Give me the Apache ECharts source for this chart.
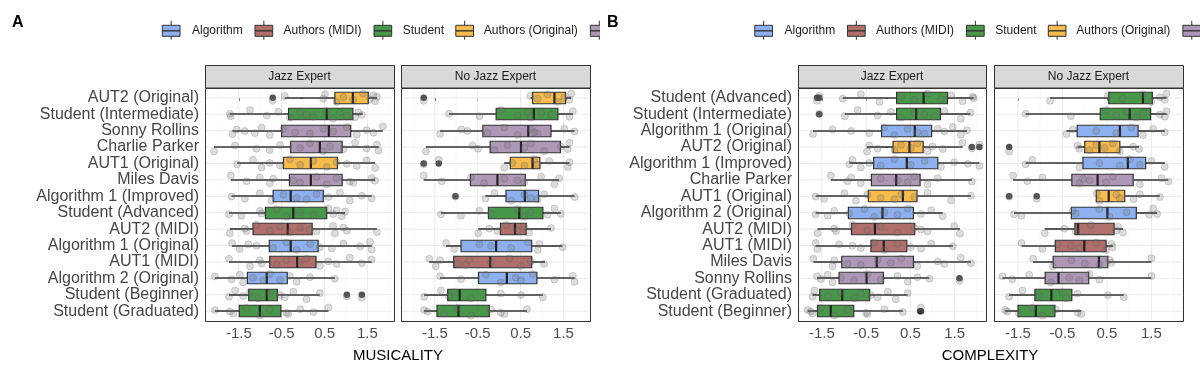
<!DOCTYPE html>
<html><head><meta charset="utf-8">
<script src="https://cdn.jsdelivr.net/npm/echarts@6/dist/echarts.min.js"></script>
<style>html,body{margin:0;padding:0;background:#fff}#c{width:1200px;height:373px}</style>
</head><body><div id="c"></div>
<script>
const groupNames = ['Algorithm','Authors (MIDI)','Student','Authors (Original)','Jazz Musician'];
const groupColors = ['#7DA6EE','#A65B56','#2E8A30','#F6B332','#A48AAD'];
const tickVals = [-1.5,-0.5,0.5,1.5];
const minorVals = [-2,-1,0,1,2];
const facetNames = ['Jazz Expert','No Jazz Expert'];

// ---------- Panel A: MUSICALITY (top to bottom) ----------
const catsA = ['AUT2 (Original)','Student (Intermediate)','Sonny Rollins','Charlie Parker','AUT1 (Original)','Miles Davis','Algorithm 1 (Improved)','Student (Advanced)','AUT2 (MIDI)','Algorithm 1 (Original)','AUT1 (MIDI)','Algorithm 2 (Original)','Student (Beginner)','Student (Graduated)'];
const groupA = [3,2,4,4,3,4,0,2,1,0,1,0,2,2];
// [min, Q1, median, Q3, max]
const boxA_jazz = [
 [-0.43,0.74,1.16,1.52,1.72],[-1.71,-0.34,0.55,1.16,1.39],[-1.65,-0.50,0.60,1.11,1.86],[-2.08,-0.29,0.39,0.91,1.76],
 [-1.54,-0.46,0.18,0.80,1.68],[-1.69,-0.32,0.18,0.91,1.68],[-1.67,-0.70,-0.29,0.47,1.60],[-1.73,-0.88,-0.23,0.55,0.98],
 [-1.71,-1.17,-0.36,0.21,1.72],[-1.66,-0.79,-0.29,0.35,1.60],[-1.73,-0.78,-0.14,0.30,1.60],[-2.06,-1.30,-0.85,-0.37,0.74],
 [-1.73,-1.27,-0.85,-0.60,0.39],[-2.06,-1.49,-1.01,-0.52,0.59]
];
const boxA_non = [
 [0.73,0.78,1.29,1.55,1.68],[-1.17,-0.07,0.81,1.37,1.72],[-1.38,-0.38,0.68,1.21,1.76],[-1.71,-0.21,0.51,1.43,1.64],
 [0.12,0.26,0.78,0.95,1.64],[-1.76,-0.67,-0.04,0.61,1.40],[-0.32,0.16,0.60,0.92,1.76],[-1.36,-0.25,0.47,1.02,1.44],
 [-0.49,0.03,0.37,0.63,1.21],[-1.24,-0.89,-0.07,0.76,1.48],[-1.63,-1.06,-0.21,0.76,1.07],[-1.38,-0.48,0.18,0.88,1.76],
 [-1.75,-1.20,-0.92,-0.31,1.02],[-1.75,-1.45,-0.95,-0.23,0.65]
];
const ptsA_jazz = [
 [-0.71,-0.43,0.47,0.51,0.78,0.94,1.17,1.40,1.56,1.64,1.68,1.72],
 [-1.71,-1.69,-1.24,-0.85,-0.58,-0.31,-0.07,0.08,0.24,0.55,0.70,0.86,1.02,1.21,1.29,1.37],
 [-1.65,-1.55,-1.36,-1.13,-0.97,-0.78,-0.46,-0.19,0.16,0.47,0.70,1.02,1.25,1.48,1.64,1.86],
 [-2.08,-1.59,-1.09,-0.78,-0.54,-0.07,0.16,0.47,0.63,0.94,1.21,1.48,1.72,1.76],
 [-1.54,-1.17,-0.97,-0.78,-0.54,-0.31,-0.07,0.24,0.55,0.78,1.02,1.25,1.48,1.68],
 [-1.69,-1.32,-1.01,-0.78,-0.70,-0.23,-0.07,0.31,0.55,0.78,1.09,1.17,1.60,1.68],
 [-1.67,-1.36,-1.01,-0.74,-0.46,-0.15,0.08,0.31,0.59,0.86,1.09,1.37,1.60],
 [-1.73,-1.44,-1.01,-0.97,-0.62,-0.39,-0.07,0.24,0.59,0.70,0.78,0.90,0.98],
 [-1.71,-1.36,-1.32,-1.09,-0.78,-0.54,-0.31,-0.07,0.16,0.31,0.70,0.74,0.94,1.02,1.72],
 [-1.66,-1.48,-1.28,-1.09,-0.70,-0.39,-0.15,0.16,0.39,0.67,0.94,1.33,1.56,1.60],
 [-1.73,-1.24,-1.01,-0.97,-0.62,-0.39,-0.07,0.08,0.39,0.59,0.78,1.09,1.37,1.60],
 [-2.06,-1.67,-1.48,-1.40,-1.17,-0.93,-0.78,-0.54,-0.31,-0.15,0.16,0.74],
 [-1.73,-1.59,-1.40,-1.24,-1.05,-0.78,-0.54,-0.43,-0.23,0.08,0.39,1.02,1.37],
 [-2.06,-1.71,-1.63,-1.32,-1.01,-0.78,-0.39,-0.35,-0.07,0.24,0.59]
];
const ptsA_non = [
 [-1.76,0.73,0.90,1.13,1.37,1.52,1.64,1.68],
 [-1.17,-0.46,0.04,0.43,0.67,0.74,0.98,1.21,1.64,1.72],
 [-1.38,-0.88,-0.74,-0.27,0.12,0.43,0.74,0.82,0.90,1.52,1.76],
 [-1.71,-0.62,-0.49,-0.11,0.20,0.59,0.74,1.05,1.44,1.60,1.64],
 [-1.76,-1.41,0.12,0.31,0.59,0.82,0.90,1.17,1.60,1.64],
 [-1.76,-1.34,-0.66,-0.35,0.12,0.43,0.59,0.98,1.29,1.40],
 [-1.02,-0.32,-0.11,0.28,0.59,0.74,0.90,1.05,1.76],
 [-1.36,-0.89,-0.46,-0.19,0.43,0.59,0.74,1.13,1.29,1.44],
 [-0.49,-0.23,-0.04,0.16,0.43,0.59,0.70,1.21],
 [-1.24,-1.05,-0.46,-0.19,0.28,0.67,0.90,0.94,1.48],
 [-1.63,-1.48,-1.38,-0.97,-0.78,-0.70,-0.19,0.24,0.51,0.74,1.05],
 [-1.38,-0.89,-0.31,0.04,0.39,0.51,0.78,1.29,1.72,1.76],
 [-1.75,-1.36,-1.17,-1.05,-0.66,0.04,0.51,1.02],
 [-1.75,-1.67,-1.28,-0.97,-0.66,-0.19,0.04,0.12,0.65]
];
// outliers: [row, value]
const outA_jazz = [[0,-0.71],[12,1.02],[12,1.37]];
const outA_non = [[0,-1.76],[4,-1.76],[4,-1.41],[6,-1.02]];

// ---------- Panel B: COMPLEXITY (top to bottom) ----------
const catsB = ['Student (Advanced)','Student (Intermediate)','Algorithm 1 (Original)','AUT2 (Original)','Algorithm 1 (Improved)','Charlie Parker','AUT1 (Original)','Algorithm 2 (Original)','AUT2 (MIDI)','AUT1 (MIDI)','Miles Davis','Sonny Rollins','Student (Graduated)','Student (Beginner)'];
const groupB = [2,2,0,3,0,4,3,0,1,1,4,4,2,2];
const boxB_jazz = [
 [-1.03,0.19,0.80,1.34,1.93],[-0.98,0.19,0.63,1.18,1.86],[-1.70,-0.15,0.60,0.98,1.78],[-0.48,0.11,0.48,0.79,1.68],
 [-0.88,-0.33,0.42,1.12,2.06],[-1.30,-0.38,0.18,0.72,1.89],[-1.64,-0.45,0.33,0.65,1.87],[-1.64,-0.90,-0.13,0.57,1.23],
 [-1.60,-0.83,-0.30,0.60,1.62],[-1.64,-0.39,-0.10,0.42,1.46],[-1.69,-1.05,-0.26,0.57,1.87],[-1.61,-1.11,-0.49,-0.11,0.93],
 [-1.71,-1.55,-1.04,-0.42,0.44],[-1.82,-1.60,-1.30,-0.78,0.33]
];
const boxB_non = [
 [-0.78,0.54,1.31,1.52,1.84],[-1.33,0.35,1.01,1.48,1.84],[-0.41,-0.17,0.79,1.20,1.80],[-0.16,0.00,0.33,0.79,1.22],
 [-1.33,-0.04,0.97,1.37,1.80],[-1.61,-0.29,0.29,1.09,1.88],[0.26,0.26,0.54,0.90,1.69],[-1.59,-0.30,0.51,1.16,1.63],
 [-0.90,-0.22,-0.15,0.66,0.86],[-1.42,-0.66,-0.01,0.48,0.63],[-1.16,-0.71,0.32,0.52,1.50],[-1.85,-0.89,-0.59,0.09,1.50],
 [-1.70,-1.12,-0.75,-0.29,0.88],[-1.79,-1.50,-1.10,-0.67,-0.08]
];
const ptsB_jazz = [
 [-1.61,-1.56,-1.03,-0.62,-0.20,0.29,0.59,0.89,1.19,1.42,1.68,1.91,1.93],
 [-1.56,-0.98,-0.69,-0.24,0.06,0.29,0.59,0.82,1.04,1.27,1.64,1.86],
 [-1.70,-1.26,-0.84,-0.43,-0.09,0.14,0.44,0.66,0.82,1.12,1.27,1.46,1.64,1.78],
 [-0.48,-0.43,-0.24,0.14,0.29,0.51,0.66,0.89,1.00,1.23,1.68,1.89,2.06],
 [-0.88,-0.81,-0.62,-0.43,-0.17,0.14,0.51,0.82,1.19,1.49,1.80,2.06],
 [-1.30,-0.92,-0.84,-0.62,-0.17,0.21,0.44,0.59,0.89,1.12,1.89],
 [-1.64,-1.45,-0.99,-0.73,-0.47,-0.17,0.14,0.29,0.59,0.89,1.42,1.87],
 [-1.64,-1.37,-1.22,-0.88,-0.54,-0.32,-0.09,0.21,0.44,0.74,0.97,1.23],
 [-1.60,-1.22,-1.18,-0.81,-0.47,-0.17,0.21,0.59,0.74,0.89,1.49,1.62],
 [-1.64,-1.60,-1.11,-0.81,-0.62,-0.32,-0.09,0.21,0.51,0.74,0.97,1.46],
 [-1.69,-1.26,-1.22,-0.92,-0.62,-0.24,0.06,0.29,0.66,1.12,1.27,1.64,1.87],
 [-1.61,-1.52,-1.37,-1.26,-1.07,-0.77,-0.47,-0.17,0.21,0.44,0.66,0.93,1.61],
 [-1.71,-1.67,-1.37,-1.07,-0.77,-0.62,-0.39,-0.24,-0.01,0.17,0.44],
 [-1.82,-1.75,-1.71,-1.52,-1.22,-0.92,-0.50,-0.47,-0.09,0.33,0.74]
];
const ptsB_non = [
 [-0.78,0.52,0.86,1.31,1.50,1.69,1.80,1.84],
 [-1.33,-0.31,0.48,0.71,0.94,1.16,1.31,1.69,1.80,1.84],
 [-0.41,-0.27,0.26,0.71,1.05,1.31,1.54,1.80],
 [-1.70,-0.16,-0.12,0.11,0.26,0.45,0.63,0.79,1.09,1.22],
 [-1.33,-1.18,-0.12,0.33,0.79,1.01,1.24,1.50,1.80],
 [-1.61,-1.29,-0.95,-0.12,-0.04,0.11,0.48,0.63,1.24,1.73,1.88],
 [-1.70,-1.08,0.27,0.33,0.71,0.79,1.10,1.24,1.69],
 [-1.59,-1.42,-0.27,-0.20,0.33,0.56,0.94,1.45,1.54,1.63],
 [-0.90,-0.46,-0.20,0.14,0.71,0.75,0.86],
 [-1.42,-0.95,-0.61,-0.31,-0.12,0.26,0.48,0.60,0.63],
 [-1.16,-0.72,-0.30,0.00,0.33,0.56,0.60,1.50],
 [-1.85,-1.63,-1.25,-0.76,-0.35,-0.12,0.11,0.33,1.50],
 [-1.70,-1.40,-1.02,-0.50,-0.42,-0.16,0.52,0.88],
 [-1.79,-1.74,-1.48,-1.18,-0.95,-0.65,-0.16,-0.08]
];
const outB_jazz = [[0,-1.61],[0,-1.56],[1,-1.56],[3,1.89],[3,2.06],[11,1.61],[13,0.74],[13,0.72]];
const outB_non = [[3,-1.70],[6,-1.70],[6,-1.08]];

// ---------- layout / style ----------
const FONT = '"Liberation Sans", Arial, sans-serif';
const JIT = [0.18,-0.12,0.05,-0.22,0.25,-0.03,0.12,-0.26,0.08,-0.15,0.21,-0.07,0.02,0.15,-0.19,0.27,-0.10,0.10];
const BOX_W = 0.7;
const gridRects = [
  {left:205, top:88, width:189, height:233},
  {left:401, top:88, width:189, height:233},
  {left:798, top:88, width:188, height:233},
  {left:994, top:88, width:189, height:233}
];
const xRangeA = [-2.29, 2.12];
const xRangeB = [-2.04, 2.21];
const facets = [
  {cats:catsA, groups:groupA, box:boxA_jazz, pts:ptsA_jazz, out:outA_jazz, range:xRangeA, labels:true},
  {cats:catsA, groups:groupA, box:boxA_non,  pts:ptsA_non,  out:outA_non,  range:xRangeA, labels:false},
  {cats:catsB, groups:groupB, box:boxB_jazz, pts:ptsB_jazz, out:outB_jazz, range:xRangeB, labels:true},
  {cats:catsB, groups:groupB, box:boxB_non,  pts:ptsB_non,  out:outB_non,  range:xRangeB, labels:false}
];

const grid = [], xAxis = [], yAxis = [], series = [], graphic = [];

function lineSeries(g, data, vertical, color, width) {
  return {
    type:'custom', xAxisIndex:g, yAxisIndex:g, silent:true, z:1, clip:false,
    data: data.map(v => vertical ? [v, 6] : [0, v]),
    renderItem(params, api) {
      const cs = params.coordSys;
      if (vertical) {
        const x = api.coord([api.value(0), 6])[0];
        return {type:'line', shape:{x1:x, y1:cs.y+1, x2:x, y2:cs.y+cs.height-1}, style:{stroke:color, lineWidth:width}};
      }
      const y = api.coord([0, api.value(1)])[1];
      return {type:'line', shape:{x1:cs.x+1, y1:y, x2:cs.x+cs.width-1, y2:y}, style:{stroke:color, lineWidth:width}};
    }
  };
}

facets.forEach((f, g) => {
  const r = gridRects[g];
  grid.push(Object.assign({containLabel:false, outerBoundsMode:'none'}, r));
  const rows = f.cats.map((c, i) => i);
  xAxis.push({
    gridIndex:g, type:'value', min:f.range[0], max:f.range[1],
    axisLine:{show:false},
    axisTick:{show:true, customValues:tickVals, length:3, lineStyle:{color:'#333', width:1}},
    axisLabel:{show:true, customValues:tickVals, formatter:v => v.toFixed(1), fontSize:15, color:'#4d4d4d', fontFamily:FONT, margin:5},
    splitLine:{show:false}
  });
  yAxis.push({
    gridIndex:g, type:'value', inverse:true, min:-0.6, max:13.6,
    axisLine:{show:false},
    axisTick:{show:f.labels, customValues:rows, length:3, lineStyle:{color:'#333', width:1}},
    axisLabel:{show:f.labels, customValues:rows, formatter:v => f.cats[Math.round(v)], fontSize:16, color:'#454545', fontFamily:FONT, margin:6},
    splitLine:{show:false}
  });
  // grid lines
  series.push(lineSeries(g, minorVals, true, '#f3f3f3', 0.6));
  series.push(lineSeries(g, tickVals, true, '#ebebeb', 1));
  series.push(lineSeries(g, rows, false, '#ebebeb', 1));
  // boxes
  series.push({
    type:'custom', xAxisIndex:g, yAxisIndex:g, z:3, silent:true,
    data: f.box.map((b, i) => [i, b[0], b[1], b[2], b[3], b[4], f.groups[i]]),
    encode:{x:[1,2,3,4,5], y:0},
    renderItem(params, api) {
      const y = api.value(0);
      const p = [1,2,3,4,5].map(k => api.coord([api.value(k), y]));
      const h = Math.abs(api.size([0, BOX_W])[1]);
      const cy = Math.round(p[0][1]);
      const col = groupColors[api.value(6)];
      const ws = {stroke:'#333', lineWidth:1.6};
      return {type:'group', children:[
        {type:'line', shape:{x1:p[0][0], y1:cy, x2:p[1][0], y2:cy}, style:ws},
        {type:'line', shape:{x1:p[3][0], y1:cy, x2:p[4][0], y2:cy}, style:ws},
        {type:'rect', shape:{x:p[1][0], y:cy-h/2, width:p[3][0]-p[1][0], height:h}, style:{fill:col, fillOpacity:0.88, stroke:'#333', lineWidth:1.2}},
        {type:'line', shape:{x1:p[2][0], y1:cy-h/2, x2:p[2][0], y2:cy+h/2}, style:{stroke:'#222', lineWidth:2.2}}
      ]};
    }
  });
  // outliers
  series.push({
    type:'scatter', xAxisIndex:g, yAxisIndex:g, z:4, silent:true, symbolSize:6.5,
    itemStyle:{color:'#333', opacity:0.85},
    data: f.out.map(o => [o[1], o[0]])
  });
  // jittered points
  const pd = [];
  f.pts.forEach((row, i) => row.forEach((v, j) => pd.push([v, i + JIT[(i * 5 + j) % JIT.length]])));
  series.push({
    type:'scatter', xAxisIndex:g, yAxisIndex:g, z:5, silent:true, symbolSize:7,
    itemStyle:{color:'rgba(110,110,110,0.3)', borderColor:'rgba(80,80,80,0.35)', borderWidth:0.8},
    data: pd
  });
  // strip + frame
  graphic.push({type:'rect', z:100, shape:{x:r.left+0.5, y:65.5, width:r.width, height:22.5}, style:{fill:'#d9d9d9', stroke:'#333', lineWidth:1}});
  graphic.push({type:'text', z:101, x:r.left + r.width/2, y:77, style:{text:facetNames[g % 2], fill:'#1a1a1a', font:'12px ' + FONT, align:'center', verticalAlign:'middle'}});
  graphic.push({type:'rect', z:100, shape:{x:r.left+0.5, y:88.5, width:r.width, height:r.height}, style:{fill:'none', stroke:'#333', lineWidth:1}});
});

// legends (panel B legend is panel A legend shifted)
const keyX = [162.3, 255, 374, 455.8, 590.4];
const textX = [192, 283.5, 402.7, 483.8];
function legend(dx, clipRight) {
  keyX.forEach((kx, i) => {
    const x0 = kx + dx;
    const w = 17.7;
    const right = Math.min(x0 + w, clipRight);
    const cx = x0 + w/2;
    const col = groupColors[i];
    graphic.push({type:'rect', z:100, shape:{x:x0, y:25.3, width:right - x0, height:11}, style:{fill:col, fillOpacity:0.88}});
    const edge = right < x0 + w
      ? [[right,25.3],[x0,25.3],[x0,36.3],[right,36.3]]
      : [[x0,25.3],[right,25.3],[right,36.3],[x0,36.3],[x0,25.3]];
    graphic.push({type:'polyline', z:101, shape:{points:edge}, style:{stroke:'#333', lineWidth:1, fill:'none'}});
    graphic.push({type:'line', z:101, shape:{x1:x0, y1:30.8, x2:right, y2:30.8}, style:{stroke:'#333', lineWidth:1.4}});
    if (cx <= clipRight) {
      graphic.push({type:'line', z:101, shape:{x1:cx, y1:20.7, x2:cx, y2:25.3}, style:{stroke:'#333', lineWidth:1}});
      graphic.push({type:'line', z:101, shape:{x1:cx, y1:36.3, x2:cx, y2:39.7}, style:{stroke:'#333', lineWidth:1}});
    }
    if (i < textX.length) {
      graphic.push({type:'text', z:101, x:textX[i] + dx, y:31, style:{text:groupNames[i], fill:'#1a1a1a', font:'12px ' + FONT, verticalAlign:'middle'}});
    }
  });
}
legend(0, 600);
legend(592.5, 1210);

// panel letters & axis titles
graphic.push({type:'text', z:101, x:12, y:23, style:{text:'A', fill:'#000', font:'bold 16px ' + FONT, verticalAlign:'middle'}});
graphic.push({type:'text', z:101, x:607, y:23, style:{text:'B', fill:'#000', font:'bold 16px ' + FONT, verticalAlign:'middle'}});
graphic.push({type:'text', z:101, x:398, y:356, style:{text:'MUSICALITY', fill:'#000', font:'15px ' + FONT, align:'center', verticalAlign:'middle'}});
graphic.push({type:'text', z:101, x:990, y:356, style:{text:'COMPLEXITY', fill:'#000', font:'15px ' + FONT, align:'center', verticalAlign:'middle'}});

const chart = echarts.init(document.getElementById('c'), null, {renderer:'canvas', width:1200, height:373});
chart.setOption({animation:false, backgroundColor:'#fff', grid, xAxis, yAxis, series, graphic});
</script>
</body></html>
